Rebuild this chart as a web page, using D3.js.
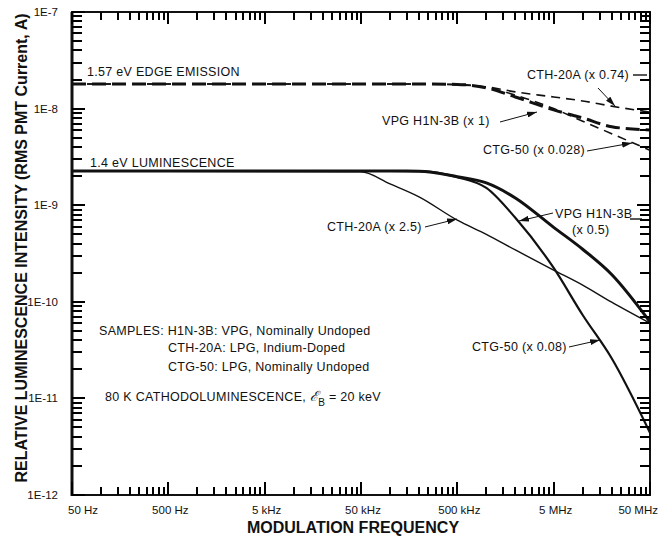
<!DOCTYPE html>
<html>
<head>
<meta charset="utf-8">
<script src="https://cdn.jsdelivr.net/npm/d3@7"></script>
<style>
  body { margin: 0; background: #fff; }
  text { font-family: "Liberation Sans", Arial, sans-serif; fill: #111; }
</style>
</head>
<body>
<div id="chart-area"></div>
<script>
// frequencies (Hz) at which the curves were read
var freqs = [50, 5e4, 1e5, 2e5, 5e5, 1e6, 2e6, 5e6, 1e7, 2e7, 5e7];

// 1.57 eV edge emission (dashed)
var edgeCTH = [1.80e-8, 1.80e-8, 1.80e-8, 1.80e-8, 1.76e-8, 1.68e-8, 1.49e-8, 1.32e-8, 1.20e-8, 1.06e-8, 9.2e-9];
var edgeVPG = [1.80e-8, 1.80e-8, 1.80e-8, 1.80e-8, 1.78e-8, 1.64e-8, 1.32e-8, 9.7e-9, 8.0e-9, 6.5e-9, 6.0e-9];
var edgeCTG = [1.80e-8, 1.80e-8, 1.80e-8, 1.80e-8, 1.78e-8, 1.66e-8, 1.38e-8, 1.0e-8, 7.4e-9, 5.5e-9, 3.7e-9];

// 1.4 eV luminescence (solid)
var lumVPG = [2.26e-9, 2.26e-9, 2.26e-9, 2.25e-9, 1.97e-9, 1.70e-9, 1.19e-9, 5.9e-10, 3.5e-10, 1.92e-10, 6.2e-11];
var lumCTH = [2.26e-9, 2.22e-9, 1.66e-9, 1.22e-9, 7.0e-10, 5.0e-10, 3.44e-10, 2.13e-10, 1.49e-10, 9.9e-11, 6.0e-11];
var lumCTG = [2.26e-9, 2.26e-9, 2.26e-9, 2.25e-9, 1.95e-9, 1.51e-9, 7.4e-10, 2.24e-10, 7.3e-11, 2.6e-11, 4.4e-12];

var xMajor = [50, 500, 5e3, 5e4, 5e5, 5e6, 5e7];
var xTickLabels = ["50 Hz", "500 Hz", "5 kHz", "50 kHz", "500 kHz", "5 MHz", "50 MHz"];
var yMajor = [1e-12, 1e-11, 1e-10, 1e-9, 1e-8, 1e-7];
var yTickLabels = ["1E-12", "1E-11", "1E-10", "1E-9", "1E-8", "1E-7"];

var W = 658, H = 537;
var pLeft = 72, pRight = 650, pTop = 12, pBottom = 495;

var svg = d3.select("#chart-area")
    .append("svg")
    .attr("width", W)
    .attr("height", H);

var x = d3.scaleLog().domain([50, 5e7]).range([pLeft, pRight]);
var y = d3.scaleLog().domain([1e-12, 1e-7]).range([pBottom, pTop]);

// minor ticks: 2..9 times each decade start
function minors(majors) {
    var out = [];
    majors.slice(0, -1).forEach(function(b) {
        for (var m = 2; m <= 9; m++) out.push(b * m);
    });
    return out;
}
var xMinor = minors(xMajor);
var yMinor = minors(yMajor);

var g = svg.append("g");

// frame
g.append("rect")
    .attr("x", pLeft).attr("y", pTop)
    .attr("width", pRight - pLeft).attr("height", pBottom - pTop)
    .attr("fill", "none")
    .attr("stroke", "#111").attr("stroke-width", 2);
g.append("rect").attr("x", pLeft - 1.5).attr("y", pTop).attr("width", 3).attr("height", pBottom - pTop + 1)
    .attr("fill", "#111");

// inward tick marks on all four sides, drawn after the frame
var ticks = svg.append("g").attr("class", "ticks");
function xTicks(vals, y0, len) {
    ticks.selectAll(null).data(vals).enter().append("rect")
        .attr("x", function(d) { return Math.round(x(d)) - 1; })
        .attr("y", len < 0 ? y0 + len : y0)
        .attr("width", 2)
        .attr("height", Math.abs(len))
        .attr("fill", "#000");
}
function yTicks(vals, x0, len) {
    ticks.selectAll(null).data(vals).enter().append("rect")
        .attr("y", function(d) { return Math.round(y(d)) - 1; })
        .attr("x", len < 0 ? x0 + len : x0)
        .attr("height", 2)
        .attr("width", Math.abs(len))
        .attr("fill", "#000");
}
xTicks(xMinor, pBottom, -8);
xTicks(xMajor, pBottom, -13);
xTicks(xMinor, pTop, 8);
xTicks(xMajor, pTop, 12);
yTicks(yMinor, pLeft, 10);
yTicks(yMajor, pLeft, 13);
yTicks(yMinor, pRight, -10);
yTicks(yMajor, pRight, -13);

// tick labels
g.selectAll(".xlab")
    .data(xMajor)
    .enter().append("text")
    .attr("x", function(d, i) {
        if (i === 0) return x(d) - 4;
        if (i === xMajor.length - 1) return x(d) + 8;
        return x(d) + 2;
    })
    .attr("y", 514)
    .attr("text-anchor", function(d, i) {
        if (i === 0) return "start";
        if (i === xMajor.length - 1) return "end";
        return "middle";
    })
    .attr("font-size", 11.5)
    .text(function(d, i) { return xTickLabels[i]; });

g.selectAll(".ylab")
    .data(yMajor)
    .enter().append("text")
    .attr("x", 58)
    .attr("y", function(d) { return y(d) + 4; })
    .attr("text-anchor", "end")
    .attr("font-size", 11.5)
    .text(function(d, i) { return yTickLabels[i]; });

// axis titles
svg.append("text")
    .attr("x", 353)
    .attr("y", 533)
    .attr("text-anchor", "middle")
    .attr("font-size", 16)
    .attr("font-weight", "bold")
    .text("MODULATION FREQUENCY");

svg.append("text")
    .attr("transform", "translate(27,248) rotate(-90)")
    .attr("text-anchor", "middle")
    .attr("font-size", 16)
    .attr("font-weight", "bold")
    .text("RELATIVE LUMINESCENCE INTENSITY (RMS PMT Current, A)");

// curves
var line = d3.line()
    .x(function(d) { return x(d[0]); })
    .y(function(d) { return y(d[1]); })
    .curve(d3.curveMonotoneX);

function pairs(vals) {
    return freqs.map(function(f, i) { return [f, vals[i]]; });
}

var series = [
    { vals: edgeCTH, w: 1.6, dash: "9,6" },
    { vals: edgeCTG, w: 1.6, dash: "9,6" },
    { vals: edgeVPG, w: 3, dash: "14,6" },
    { vals: lumCTH, w: 1.4, dash: null },
    { vals: lumCTG, w: 2.2, dash: null },
    { vals: lumVPG, w: 3, dash: null }
];

g.selectAll(".curve")
    .data(series)
    .enter().append("path")
    .attr("class", "curve")
    .attr("d", function(d) { return line(pairs(d.vals)); })
    .attr("fill", "none")
    .attr("stroke", "#111")
    .attr("stroke-width", function(d) { return d.w; })
    .attr("stroke-dasharray", function(d) { return d.dash; });

// arrowhead
svg.append("defs").append("marker")
    .attr("id", "arr")
    .attr("viewBox", "0 0 10 6")
    .attr("refX", 10).attr("refY", 3)
    .attr("markerWidth", 10).attr("markerHeight", 6)
    .attr("markerUnits", "userSpaceOnUse")
    .attr("orient", "auto")
    .append("path")
    .attr("d", "M0,0 L10,3 L0,6 z")
    .attr("fill", "#111");

// annotations
var notes = [
    { t: "1.57 eV EDGE EMISSION", x: 87, y: 76 },
    { t: "1.4 eV LUMINESCENCE", x: 90, y: 167 },
    { t: "CTH-20A (x 0.74)", x: 527, y: 79 },
    { t: "VPG H1N-3B (x 1)", x: 382, y: 125 },
    { t: "CTG-50 (x 0.028)", x: 483, y: 154 },
    { t: "VPG H1N-3B", x: 555, y: 218 },
    { t: "(x 0.5)", x: 572, y: 234 },
    { t: "CTH-20A (x 2.5)", x: 327, y: 231 },
    { t: "CTG-50 (x 0.08)", x: 472, y: 351 },
    { t: "SAMPLES: H1N-3B: VPG, Nominally Undoped", x: 99, y: 335 },
    { t: "CTH-20A: LPG, Indium-Doped", x: 168, y: 352 },
    { t: "CTG-50: LPG, Nominally Undoped", x: 168, y: 371 }
];

g.selectAll(".note")
    .data(notes)
    .enter().append("text")
    .attr("x", function(d) { return d.x; })
    .attr("y", function(d) { return d.y; })
    .attr("font-size", 12.5)
    .attr("letter-spacing", 0.3)
    .text(function(d) { return d.t; });

var cl = g.append("text")
    .attr("x", 105).attr("y", 401)
    .attr("font-size", 12.5)
    .attr("letter-spacing", 0.3);
cl.append("tspan").text("80 K CATHODOLUMINESCENCE,  ");
cl.append("tspan").attr("font-family", "DejaVu Serif").attr("font-style", "italic").attr("font-size", 14).text("\u2130");
cl.append("tspan").attr("font-size", 10).attr("dy", 5).text("B");
cl.append("tspan").attr("dy", -5).text(" = 20 keV");

var arrows = [
    [598, 88, 615, 106],
    [500, 122, 537, 112],
    [587, 151, 632, 143],
    [553, 213, 519, 221],
    [425, 227, 457, 219],
    [569, 347, 600, 340]
];

g.selectAll(".arrow")
    .data(arrows)
    .enter().append("path")
    .attr("d", function(a) { return "M" + a[0] + "," + a[1] + "L" + a[2] + "," + a[3]; })
    .attr("fill", "none")
    .attr("stroke", "#111")
    .attr("stroke-width", 1)
    .attr("marker-end", "url(#arr)");

// short leader dashes next to right-edge labels
g.append("rect").attr("x", 633).attr("y", 74.3).attr("width", 14).attr("height", 1.4).attr("fill", "#111");
g.append("rect").attr("x", 630).attr("y", 218.3).attr("width", 12).attr("height", 1.4).attr("fill", "#111");
</script>
</body>
</html>
